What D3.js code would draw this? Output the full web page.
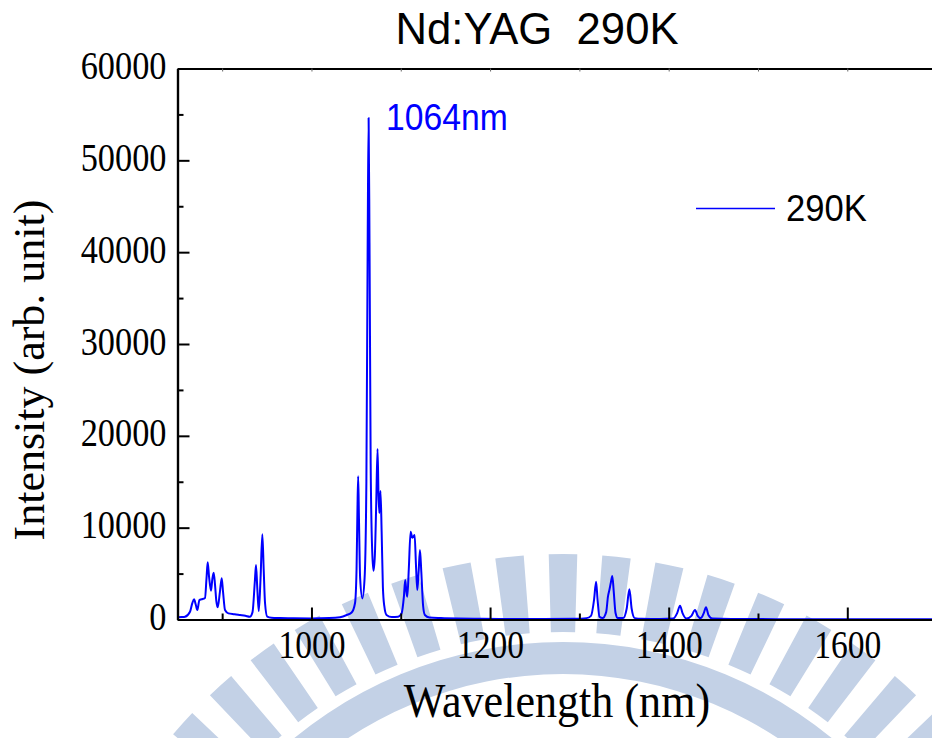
<!DOCTYPE html>
<html>
<head>
<meta charset="utf-8">
<script src="https://cdn.jsdelivr.net/npm/d3@7"></script>
<style>
  html, body { margin: 0; padding: 0; background: #fff; overflow: hidden; }
  svg { display: block; }
</style>
</head>
<body>
<div id="chart"></div>
<script>
// Spectrum (wavelength in nm, intensity in arb. unit)
const wavelength = [850, 855, 858.4, 864, 866.5, 868.5, 870.5, 872.2, 874.5, 877, 880.8, 882.5, 883.8, 885.3, 887.5, 889, 890.5, 892, 893.5, 895,
    897.5, 899.5, 901, 903.2, 907, 914, 920, 926, 931, 934, 936.5, 937.9, 939.3, 941, 943, 945, 946.5, 948, 950.5, 955,
    965, 980, 1000, 1020, 1032, 1039.5, 1045, 1048.8, 1050.5, 1051.5, 1052.3, 1053.2, 1054.5, 1057, 1059.5, 1061.5, 1063, 1064, 1065, 1066.3,
    1068, 1069.5, 1071, 1072.5, 1074, 1075.1, 1076, 1077.3, 1078.6, 1080, 1081.5, 1084, 1090, 1097, 1101, 1103.5, 1105, 1106.3, 1107.3, 1109,
    1111, 1113, 1115.5, 1117, 1118.5, 1120, 1121.5, 1123, 1125, 1127, 1132, 1145, 1165, 1190, 1220, 1260, 1295, 1308, 1313, 1316.5,
    1318.7, 1320.5, 1322.5, 1326, 1330, 1332, 1333.6, 1335.2, 1336.9, 1338.5, 1340.5, 1343, 1349, 1353, 1356, 1358.5, 1362, 1370, 1390, 1405,
    1409.5, 1412.7, 1415.5, 1420, 1425.5, 1429.5, 1432.5, 1436, 1439.3, 1441.8, 1444.5, 1449, 1470, 1520, 1600, 1700];
const intensity = [240, 260, 300, 850, 1760, 2200, 1600, 1030, 2120, 2200, 2350, 4500, 6230, 4700, 3140, 4400, 5100, 3800, 2000, 1330,
    3000, 4490, 3000, 1030, 670, 580, 490, 400, 300, 800, 4000, 5930, 3500, 925, 4500, 9280, 5500, 1800, 300, 180,
    150, 130, 120, 150, 250, 490, 760, 1800, 5500, 12000, 15600, 11000, 4500, 2300, 4500, 15000, 42000, 54600, 41000, 17000,
    7500, 5300, 7000, 12500, 18570, 13500, 11600, 14000, 9500, 3500, 1500, 500, 260, 300, 700, 2500, 4300, 3000, 2480, 5500,
    9560, 8900, 9200, 6000, 3210, 5200, 7570, 5200, 1500, 490, 220, 150, 100, 80, 60, 60, 80, 150, 400, 2200,
    4120, 2000, 300, 150, 800, 2500, 3210, 4000, 4740, 3000, 700, 150, 150, 1200, 3290, 1200, 150, 80, 60, 100,
    700, 1500, 700, 100, 400, 1030, 400, 150, 700, 1330, 500, 100, 50, 40, 40, 40];

const xMajor = [1000, 1200, 1400, 1600];
const xMinor = [900, 1100, 1300, 1500, 1700];
const yMajor = [0, 10000, 20000, 30000, 40000, 50000, 60000];
const yMinor = [5000, 15000, 25000, 35000, 45000, 55000];

const chartTitle = "Nd:YAG\u00a0 290K";
const peakLabel = "1064nm";
const seriesName = "290K";
const xTitle = "Wavelength (nm)";
const yTitle = "Intensity (arb. unit)";

const W = 932, H = 738;
const serif = "'Liberation Serif', 'Times New Roman', serif";
const sans = "'Liberation Sans', Arial, sans-serif";

const svg = d3.select("#chart").append("svg")
    .attr("width", W)
    .attr("height", H);

svg.append("rect").attr("width", W).attr("height", H).attr("fill", "#fff");

// Faint logo watermark behind the plot (ring with gear teeth)
const mark = svg.append("g")
    .attr("transform", "translate(563,1066)")
    .attr("fill", "#c3d1e6");
mark.append("path")
    .attr("d", d3.arc().innerRadius(392).outerRadius(424).startAngle(-Math.PI / 2).endAngle(Math.PI / 2)());
const teeth = d3.range(-66, 67, 6);
mark.selectAll(".tooth")
    .data(teeth)
    .enter().append("path")
    .attr("class", "tooth")
    .attr("d", a => d3.arc().innerRadius(434).outerRadius(512)
        .startAngle((a - 1.6) * Math.PI / 180)
        .endAngle((a + 1.6) * Math.PI / 180)());

// Scales (plot runs a little past the right edge of the picture)
const x = d3.scaleLinear().domain([850, 1700]).range([177.5, 936.6]);
const y = d3.scaleLinear().domain([0, 60000]).range([619.5, 68.5]);

const plotLeft = x.range()[0], plotRight = x.range()[1];
const plotTop = y.range()[1], plotBottom = y.range()[0];

// squeeze a text node to a share of its natural width
function squeeze(sel, k) {
    sel.each(function() {
        const len = this.getComputedTextLength();
        d3.select(this).attr("textLength", len * k).attr("lengthAdjust", "spacingAndGlyphs");
    });
}

svg.append("clipPath").attr("id", "plot-clip")
    .append("rect")
    .attr("x", plotLeft).attr("y", plotTop - 2)
    .attr("width", plotRight - plotLeft).attr("height", plotBottom - plotTop + 2);

// Data line
const line = d3.line()
    .x((d, i) => x(wavelength[i]))
    .y(d => y(d))
    .curve(d3.curveMonotoneX);

svg.append("path")
    .datum(intensity)
    .attr("clip-path", "url(#plot-clip)")
    .attr("fill", "none")
    .attr("stroke", "#0000ff")
    .attr("stroke-width", 2)
    .attr("stroke-linejoin", "round")
    .attr("d", line);

// Axes: bottom and left with inward ticks
const axisBottom = d3.axisBottom(x).tickValues(xMajor).tickSize(-12).tickSizeOuter(0).tickPadding(0).tickFormat(d3.format("d"));
const axisBottomMinor = d3.axisBottom(x).tickValues(xMinor).tickSize(-6).tickSizeOuter(0).tickFormat("");
const axisLeft = d3.axisLeft(y).tickValues(yMajor).tickSize(-12).tickSizeOuter(0).tickPadding(0).tickFormat(d3.format("d"));
const axisLeftMinor = d3.axisLeft(y).tickValues(yMinor).tickSize(-6).tickSizeOuter(0).tickFormat("");
const axisTop = d3.axisTop(x).tickValues(xMajor.concat(xMinor)).tickSize(-3).tickSizeOuter(0).tickFormat("");

function styleAxis(g) {
    g.select(".domain").attr("stroke", "#000").attr("stroke-width", 2.2);
    g.selectAll(".tick line").attr("stroke", "#000").attr("stroke-width", 2);
}

svg.append("g").attr("transform", `translate(0,${plotBottom})`).call(axisBottomMinor).call(styleAxis);
const gx = svg.append("g").attr("transform", `translate(0,${plotBottom})`).call(axisBottom).call(styleAxis);
gx.selectAll(".tick text")
    .attr("y", 38)
    .attr("dy", 0)
    .attr("fill", "#000")
    .style("font-family", serif)
    .style("font-size", "39px")
    .call(squeeze, 0.86);

svg.append("g").attr("transform", `translate(${plotLeft},0)`).call(axisLeftMinor).call(styleAxis);
const gy = svg.append("g").attr("transform", `translate(${plotLeft},0)`).call(axisLeft).call(styleAxis);
gy.selectAll(".tick text")
    .attr("x", -11)
    .attr("dy", 10)
    .attr("fill", "#000")
    .style("font-family", serif)
    .style("font-size", "39px")
    .call(squeeze, 0.88);

const gt = svg.append("g").attr("transform", `translate(0,${plotTop})`).call(axisTop);
gt.select(".domain").attr("stroke", "#000").attr("stroke-width", 2.2);
gt.selectAll(".tick line").attr("stroke", "#666").attr("stroke-width", 1);

// Title
svg.append("text")
    .attr("x", 537)
    .attr("y", 44)
    .attr("text-anchor", "middle")
    .style("font-family", sans)
    .style("font-size", "45px")
    .text(chartTitle)
    .call(squeeze, 0.97);

// Peak annotation
svg.append("text")
    .attr("x", 386)
    .attr("y", 130)
    .attr("fill", "#0000ff")
    .style("font-family", sans)
    .style("font-size", "37px")
    .text(peakLabel)
    .call(squeeze, 0.91);

// Legend
svg.append("line")
    .attr("x1", 696).attr("x2", 775)
    .attr("y1", 208.5).attr("y2", 208.5)
    .attr("stroke", "#0000ff")
    .attr("stroke-width", 1.5);

svg.append("text")
    .attr("x", 786)
    .attr("y", 221)
    .style("font-family", sans)
    .style("font-size", "36px")
    .text(seriesName)
    .call(squeeze, 0.96);

// Axis titles
svg.append("text")
    .attr("x", 557)
    .attr("y", 717)
    .attr("text-anchor", "middle")
    .style("font-family", serif)
    .style("font-size", "49px")
    .text(xTitle)
    .call(squeeze, 0.9);

svg.append("text")
    .attr("transform", "translate(44,370) rotate(-90)")
    .attr("text-anchor", "middle")
    .style("font-family", serif)
    .style("font-size", "44px")
    .text(yTitle)
    .call(squeeze, 1.0);
</script>
</body>
</html>
